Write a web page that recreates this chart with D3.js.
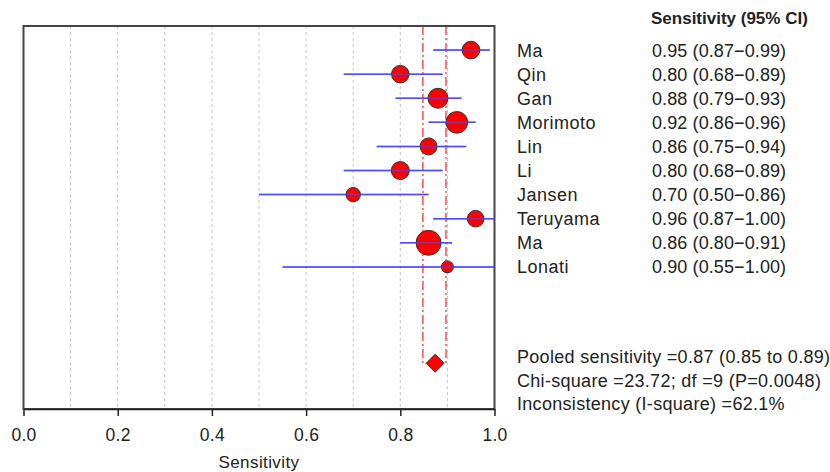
<!DOCTYPE html>
<html>
<head>
<meta charset="utf-8">
<script src="https://cdn.jsdelivr.net/npm/d3@7"></script>
<style>
  body { margin: 0; background: #fff; }
  svg text { font-family: "Liberation Sans", Arial, sans-serif; fill: #222; }
</style>
</head>
<body>
<svg id="chart" width="830" height="472"></svg>
<script>
// study data
let studies = ['Ma', 'Qin', 'Gan', 'Morimoto', 'Lin', 'Li', 'Jansen', 'Teruyama', 'Ma', 'Lonati'];
let sens  = [0.95, 0.80, 0.88, 0.92, 0.86, 0.80, 0.70, 0.96, 0.86, 0.90];
let lower = [0.87, 0.68, 0.79, 0.86, 0.75, 0.68, 0.50, 0.87, 0.80, 0.55];
let upper = [0.99, 0.89, 0.93, 0.96, 0.94, 0.89, 0.86, 1.00, 0.91, 1.00];
// relative study weights (marker area)
let weights = [78, 77, 100, 117, 72, 81, 52, 69, 156, 36];

let pooled = [0.874, 0.848, 0.897];   // estimate, lower, upper
let xTicks = [0, 0.2, 0.4, 0.6, 0.8, 1.0];
let gridVals = [0.1, 0.2, 0.3, 0.4, 0.5, 0.6, 0.7, 0.8, 0.9];
let footLines = [
  'Pooled sensitivity =0.87 (0.85 to 0.89)',
  'Chi-square =23.72; df =9 (P=0.0048)',
  'Inconsistency (I-square) =62.1%'
];

let svg = d3.select('#chart');

let pLeft = 23.5, pRight = 494.5, pTop = 26, pBottom = 409;

let x = d3.scaleLinear().domain([0, 1]).range([pLeft, pRight]);
let y = d3.scaleLinear().domain([0, 15.9]).range([pTop, pBottom]);
let r = d3.scaleSqrt().domain([0, d3.max(weights)]).range([0, 12.5]);

let rows = studies.map((s, i) => ({
  name: s, est: sens[i], lo: lower[i], hi: upper[i], w: weights[i], row: i + 1
}));

// grid lines
svg.append('g')
  .selectAll('line')
  .data(gridVals)
  .enter()
  .append('line')
  .attr('x1', d => x(d)).attr('x2', d => x(d))
  .attr('y1', pTop).attr('y2', pBottom)
  .style('stroke', '#c4c4c4')
  .style('stroke-width', '1px')
  .style('stroke-dasharray', '3,3');

// pooled CI lines (dash-dot)
let poolRow = 14;
let diamondHalf = 9;
svg.append('path')
  .attr('d', `M${x(pooled[1])},${pTop} V${y(poolRow)} H${x(pooled[0]) - diamondHalf}` +
             `M${x(pooled[2])},${pTop} V${y(poolRow)} H${x(pooled[0]) + diamondHalf}`)
  .style('fill', 'none')
  .style('stroke', '#ff3030')
  .style('stroke-width', '1.3px')
  .style('stroke-dasharray', '9,3,2,3');

// CI segments
svg.append('g')
  .selectAll('line')
  .data(rows)
  .enter()
  .append('line')
  .attr('x1', d => x(d.lo)).attr('x2', d => x(d.hi))
  .attr('y1', d => y(d.row)).attr('y2', d => y(d.row))
  .style('stroke', '#4b4bff')
  .style('stroke-width', '1.5px');

// point estimates
svg.append('g')
  .selectAll('circle')
  .data(rows)
  .enter()
  .append('circle')
  .attr('cx', d => x(d.est))
  .attr('cy', d => y(d.row))
  .attr('r', d => r(d.w))
  .style('fill', '#ff0000')
  .style('stroke', '#333')
  .style('stroke-width', '1px');

// redraw CI over circles, semi transparent like the original
svg.append('g')
  .selectAll('line')
  .data(rows)
  .enter()
  .append('line')
  .attr('x1', d => x(d.lo)).attr('x2', d => x(d.hi))
  .attr('y1', d => y(d.row)).attr('y2', d => y(d.row))
  .style('stroke', '#4b4bff')
  .style('stroke-opacity', 0.6)
  .style('stroke-width', '1.5px');

// pooled diamond
let px = x(pooled[0]), py = y(poolRow);
svg.append('path')
  .attr('d', `M${px - diamondHalf},${py} L${px},${py - diamondHalf} L${px + diamondHalf},${py} L${px},${py + diamondHalf}Z`)
  .style('fill', '#ff0000')
  .style('stroke', '#333')
  .style('stroke-width', '1px');

// frame
svg.append('rect')
  .attr('x', pLeft).attr('y', pTop)
  .attr('width', pRight - pLeft).attr('height', pBottom - pTop)
  .style('fill', 'none')
  .style('stroke', '#444')
  .style('stroke-width', '2px');

// x axis
let xAxis = d3.axisBottom(x)
  .tickValues(xTicks)
  .tickFormat(d3.format('.1f'))
  .tickSize(7)
  .tickSizeOuter(0);

let ax = svg.append('g')
  .attr('transform', `translate(0,${pBottom})`)
  .call(xAxis);
ax.select('.domain').style('stroke', '#222').style('stroke-width', '1.5px');
ax.selectAll('.tick line').style('stroke', '#222').style('stroke-width', '1.5px');
ax.selectAll('.tick text')
  .attr('y', 20)
  .style('font-size', '17.5px')
  .style('letter-spacing', '0.3px')
  .style('font-family', '"Liberation Sans", Arial, sans-serif')
  .style('fill', '#222');

svg.append('text')
  .attr('x', x(0.5)).attr('y', 468)
  .attr('text-anchor', 'middle')
  .style('font-size', '17px')
  .style('letter-spacing', '0.4px')
  .text('Sensitivity');

// right-side table
svg.append('text')
  .attr('x', 651).attr('y', 24)
  .style('font-size', '17px')
  .style('font-weight', 'bold')
  .text('Sensitivity (95% CI)');

let fmt = d3.format('.2f');
let tbl = svg.append('g')
  .style('font-size', '18px')
  .style('letter-spacing', '0.25px');

tbl.selectAll('text.name')
  .data(rows)
  .enter()
  .append('text')
  .attr('class', 'name')
  .attr('x', 517)
  .attr('y', d => y(d.row))
  .attr('dy', '0.36em')
  .style('letter-spacing', '0.5px')
  .text(d => d.name);

tbl.selectAll('text.val')
  .data(rows)
  .enter()
  .append('text')
  .attr('class', 'val')
  .attr('x', 652)
  .attr('y', d => y(d.row))
  .attr('dy', '0.36em')
  .style('letter-spacing', '0.1px')
  .text(d => `${fmt(d.est)} (${fmt(d.lo)}\u2212${fmt(d.hi)})`);

svg.append('g')
  .style('font-size', '18px')
  .style('letter-spacing', '0.3px')
  .selectAll('text')
  .data(footLines)
  .enter()
  .append('text')
  .attr('x', 517)
  .attr('y', (d, i) => 357 + i * 23.5)
  .attr('dy', '0.36em')
  .text(d => d);
</script>
</body>
</html>
